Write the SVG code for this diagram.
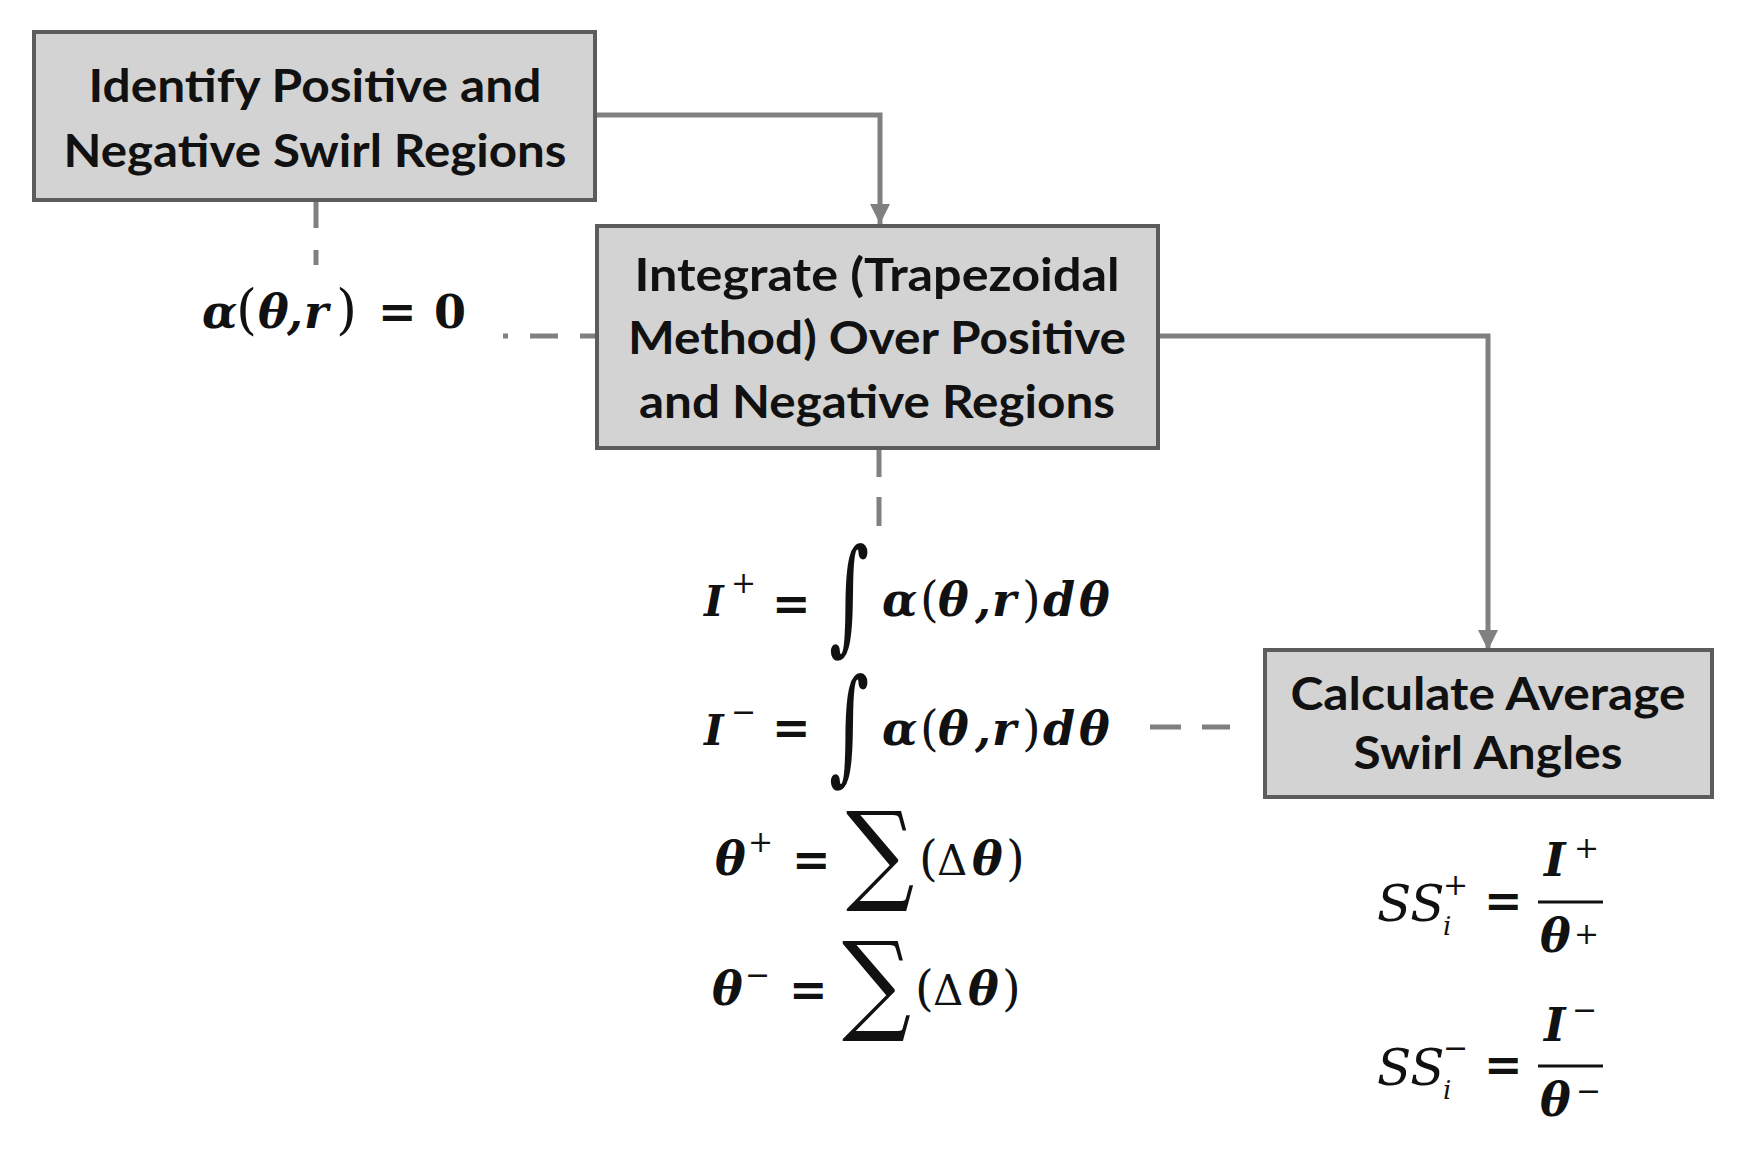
<svg xmlns="http://www.w3.org/2000/svg" width="1746" height="1166" viewBox="0 0 1746 1166">
<style>
.box rect { fill:#d3d3d3; stroke:#5c5c5c; stroke-width:4; }
.lbl { font-family: Lato, "Liberation Sans", sans-serif; font-weight:700; font-size:46px; fill:#111; text-anchor:middle; }
.conn { stroke:#808080; stroke-width:5; fill:none; }
.dash { stroke:#808080; stroke-width:5; fill:none; }
.m { font-family:"DejaVu Serif","Liberation Serif",serif; font-style:italic; font-weight:700; font-size:46px; fill:#111; }
.u { font-style:normal; }
.r { font-weight:400; }
.p { font-style:normal; font-weight:400; font-size:48px; }
.sup { font-size:30px; font-style:normal; font-weight:400; }
.big { font-family:"DejaVu Serif","Liberation Serif",serif; font-style:normal; font-weight:400; font-size:110px; fill:#111; }
.bar { stroke:#111; stroke-width:3; }
</style>
<defs>
<marker id="arr" viewBox="0 0 10 10" refX="10" refY="5" markerWidth="20" markerHeight="20" markerUnits="userSpaceOnUse" orient="auto">
<path d="M0,0 L10,5 L0,10 z" fill="#808080"/>
</marker>
</defs>

<g id="connectors">
<path class="conn" d="M595,115 H880 V224" marker-end="url(#arr)"/>
<path class="conn" d="M1158,336 H1488 V650" marker-end="url(#arr)"/>
<path class="dash" d="M316,200 V265" stroke-dasharray="28 22"/>
<path class="dash" d="M598,336 H503" stroke-dasharray="18 22 28 22"/>
<path class="dash" d="M879,448 V527" stroke-dasharray="29 20"/>
<path class="dash" d="M1150,727 H1230" stroke-dasharray="31 21"/>
</g>

<g id="node-identify" class="box">
<rect x="34" y="32" width="561" height="168"/>
<text class="lbl" x="315" y="102" textLength="453" lengthAdjust="spacingAndGlyphs">Identify Positive and</text>
<text class="lbl" x="315" y="167" textLength="503" lengthAdjust="spacingAndGlyphs">Negative Swirl Regions</text>
</g>

<g id="node-integrate" class="box">
<rect x="597" y="226" width="561" height="222"/>
<text class="lbl" x="877" y="291" textLength="485" lengthAdjust="spacingAndGlyphs">Integrate (Trapezoidal</text>
<text class="lbl" x="877" y="354" textLength="498" lengthAdjust="spacingAndGlyphs">Method) Over Positive</text>
<text class="lbl" x="877" y="418" textLength="476" lengthAdjust="spacingAndGlyphs">and Negative Regions</text>
</g>

<g id="node-calculate" class="box">
<rect x="1265" y="650" width="447" height="147"/>
<text class="lbl" x="1488" y="710" font-size="50" textLength="395" lengthAdjust="spacingAndGlyphs">Calculate Average</text>
<text class="lbl" x="1488" y="769" font-size="50" textLength="269" lengthAdjust="spacingAndGlyphs">Swirl Angles</text>
</g>

<g id="formula-alpha">
<text class="m" y="328" font-size="44"><tspan x="202">α</tspan><tspan x="236" class="u r" font-size="54">(</tspan><tspan x="258">θ</tspan><tspan x="287">,</tspan><tspan x="304">r</tspan><tspan x="336" class="u r" font-size="54">)</tspan><tspan x="378" class="u">=</tspan><tspan x="434" class="u">0</tspan></text>
</g>

<g id="formulas-integrals">
<text class="m" y="616"><tspan x="704" font-size="42">I</tspan><tspan x="731" y="593" class="sup">+</tspan><tspan x="772" y="620" class="u">=</tspan><tspan x="882" y="616">α</tspan><tspan x="920" class="p">(</tspan><tspan x="938">θ</tspan><tspan x="975">,</tspan><tspan x="992">r</tspan><tspan x="1022" class="p">)</tspan><tspan x="1043">d</tspan><tspan x="1079">θ</tspan></text>
<text class="big" transform="translate(829,638) scale(0.7,1.14)">∫</text>

<text class="m" y="745"><tspan x="704" font-size="42">I</tspan><tspan x="731" y="722" class="sup">−</tspan><tspan x="772" y="744" class="u">=</tspan><tspan x="882" y="745">α</tspan><tspan x="920" class="p">(</tspan><tspan x="938">θ</tspan><tspan x="975">,</tspan><tspan x="992">r</tspan><tspan x="1022" class="p">)</tspan><tspan x="1043">d</tspan><tspan x="1079">θ</tspan></text>
<text class="big" transform="translate(829,768) scale(0.7,1.14)">∫</text>

<text class="m" y="875"><tspan x="715">θ</tspan><tspan x="748" y="852" class="sup">+</tspan><tspan x="792" y="876" class="u">=</tspan><tspan x="919" y="875" class="p">(</tspan><tspan x="937" class="u r" font-size="42">Δ</tspan><tspan x="972">θ</tspan><tspan x="1006" class="p">)</tspan></text>
<text class="big" transform="translate(846,890) scale(0.87,1.0)">∑</text>

<text class="m" y="1005"><tspan x="712">θ</tspan><tspan x="745" y="985" class="sup">−</tspan><tspan x="789" y="1006" class="u">=</tspan><tspan x="915" y="1005" class="p">(</tspan><tspan x="933" class="u r" font-size="42">Δ</tspan><tspan x="968">θ</tspan><tspan x="1002" class="p">)</tspan></text>
<text class="big" transform="translate(842,1020) scale(0.88,1.0)">∑</text>
</g>

<g id="formulas-ss">
<text class="m" y="921"><tspan x="1377" class="r" font-size="50">SS</tspan><tspan x="1443" y="935" class="r" font-size="26">i</tspan><tspan x="1443" y="895" class="sup" font-size="28">+</tspan><tspan x="1484" y="917" class="u">=</tspan></text>
<line class="bar" x1="1538" y1="902" x2="1603" y2="902"/>
<text class="m" y="876" font-size="44"><tspan x="1544">I</tspan><tspan x="1574" y="858" class="sup">+</tspan></text>
<text class="m" y="952" font-size="44"><tspan x="1540">θ</tspan><tspan x="1574" y="944" class="sup">+</tspan></text>

<text class="m" y="1085"><tspan x="1377" class="r" font-size="50">SS</tspan><tspan x="1443" y="1099" class="r" font-size="26">i</tspan><tspan x="1443" y="1058" class="sup" font-size="28">−</tspan><tspan x="1484" y="1081" class="u">=</tspan></text>
<line class="bar" x1="1538" y1="1066" x2="1603" y2="1066"/>
<text class="m" y="1041" font-size="44"><tspan x="1544">I</tspan><tspan x="1572" y="1020" class="sup">−</tspan></text>
<text class="m" y="1116" font-size="44"><tspan x="1540">θ</tspan><tspan x="1576" y="1101" class="sup">−</tspan></text>
</g>
</svg>
